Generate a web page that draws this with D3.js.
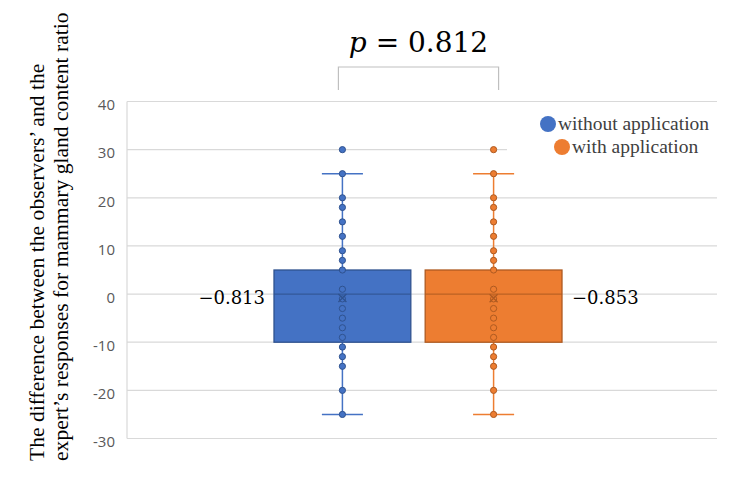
<!DOCTYPE html>
<html>
<head>
<meta charset="utf-8">
<script src="https://cdn.jsdelivr.net/npm/d3@7"></script>
<style>
  html, body { margin: 0; padding: 0; background: #fff; }
  svg { display: block; }
</style>
</head>
<body>
<svg id="chart" width="750" height="479"></svg>
<script>
// ---------- DATA ----------
const seriesNames = ["without application", "with application"];
const seriesColors = ["#4472C4", "#ED7D31"];
const seriesStrokes = ["#2F528F", "#AE5A21"];
const yTicks = [-30, -20, -10, 0, 10, 20, 30, 40];
const q1Values = [-10, -10];
const medianValues = [0, 0];
const q3Values = [5, 5];
const whiskerLow = [-25, -25];
const whiskerHigh = [25, 25];
const meanValues = [-0.813, -0.853];
const meanLabels = ["\u22120.813", "\u22120.853"];
const pointsWithout = [30, 25, 20, 18, 15, 12, 9, 7, 5, 1, -1, -3, -5, -7, -9, -11, -13, -15, -20, -25];
const pointsWith = [30, 25, 20, 18, 15, 12, 9, 7, 5, 1, -1, -3, -5, -7, -9, -11, -13, -15, -20, -25];
const pValueText = "0.812";
const yTitleLines = ["The difference between the observers\u2019 and the",
                     "expert\u2019s responses for mammary gland content ratio"];

// ---------- LAYOUT ----------
const svg = d3.select("#chart");
const plotLeft = 127, plotRight = 717, plotTop = 101.5, plotBottom = 438.5;

const y = d3.scaleLinear().domain([-30, 40]).range([plotBottom, plotTop]);
const x = d3.scaleBand().domain(seriesNames).range([274, 562]).paddingInner(0.095).paddingOuter(0);

// gridlines
svg.append("g").selectAll("line").data(yTicks).join("line")
  .attr("x1", plotLeft).attr("x2", plotRight)
  .attr("y1", d => y(d)).attr("y2", d => y(d))
  .attr("stroke", "#d9d9d9").attr("stroke-width", 1.2);
// left axis line
svg.append("line")
  .attr("x1", plotLeft).attr("x2", plotLeft)
  .attr("y1", y(40)).attr("y2", y(-30))
  .attr("stroke", "#d9d9d9").attr("stroke-width", 1.2);

// y axis labels
const yAxis = d3.axisLeft(y).tickValues(yTicks).tickSize(0).tickPadding(0).tickFormat(d => String(d));
const yAxisG = svg.append("g").attr("transform", `translate(115,0)`).call(yAxis);
yAxisG.select(".domain").remove();
yAxisG.selectAll("text")
  .attr("fill", "#595959")
  .attr("font-family", "'Open Sans', 'Liberation Sans', sans-serif")
  .attr("font-size", "15px")
  .attr("dy", "0.55em");

// legend white background (covers gridlines)
svg.append("rect").attr("x", 507).attr("y", 110).attr("width", 212).attr("height", 50).attr("fill", "#fff");

// boxes
const pointSets = [pointsWithout, pointsWith];
seriesNames.forEach((name, i) => {
  const g = svg.append("g");
  const bx = x(name), bw = x.bandwidth(), cx = bx + bw / 2;
  const capW = bw * 0.3;
  const col = seriesColors[i], dark = seriesStrokes[i];
  // whisker lines
  g.append("line").attr("x1", cx).attr("x2", cx).attr("y1", y(whiskerHigh[i])).attr("y2", y(q3Values[i]))
    .attr("stroke", col).attr("stroke-width", 1.5);
  g.append("line").attr("x1", cx).attr("x2", cx).attr("y1", y(q1Values[i])).attr("y2", y(whiskerLow[i]))
    .attr("stroke", col).attr("stroke-width", 1.5);
  [whiskerHigh[i], whiskerLow[i]].forEach(v => {
    g.append("line").attr("x1", cx - capW / 2).attr("x2", cx + capW / 2).attr("y1", y(v)).attr("y2", y(v))
      .attr("stroke", col).attr("stroke-width", 1.5);
  });
  // box
  g.append("rect").attr("x", bx).attr("y", y(q3Values[i])).attr("width", bw)
    .attr("height", y(q1Values[i]) - y(q3Values[i]))
    .attr("fill", col).attr("stroke", dark).attr("stroke-width", 1.3);
  // median
  g.append("line").attr("x1", bx).attr("x2", bx + bw).attr("y1", y(medianValues[i])).attr("y2", y(medianValues[i]))
    .attr("stroke", dark).attr("stroke-width", 1.2).attr("stroke-opacity", 0.8);
  // points
  g.selectAll("circle").data(pointSets[i]).join("circle")
    .attr("cx", cx).attr("cy", d => y(d)).attr("r", 3.1)
    .attr("fill", col).attr("stroke", dark).attr("stroke-width", 1);
  // mean marker X
  const my = y(meanValues[i]), s = 4;
  g.append("path").attr("d", `M${cx - s},${my - s}L${cx + s},${my + s}M${cx - s},${my + s}L${cx + s},${my - s}`)
    .attr("stroke", dark).attr("stroke-width", 1.3).attr("fill", "none");
  // mean label
  svg.append("text")
    .attr("x", i === 0 ? bx - 9 : bx + bw + 10)
    .attr("y", y(meanValues[i]) + 6)
    .attr("text-anchor", i === 0 ? "end" : "start")
    .attr("font-family", "'DejaVu Serif', serif")
    .attr("font-size", "18px").attr("fill", "#000")
    .text(meanLabels[i]);
});

// legend
const legendY = [124, 147];
const legendX = [548, 562];
seriesNames.forEach((name, i) => {
  svg.append("circle").attr("cx", legendX[i]).attr("cy", legendY[i]).attr("r", 8).attr("fill", seriesColors[i]);
  svg.append("text").attr("x", legendX[i] + 10).attr("y", legendY[i] + 6)
    .attr("font-family", "'Liberation Serif', 'Times New Roman', serif")
    .attr("font-size", "19.5px").attr("fill", "#404040")
    .text(name);
});

// p-value bracket
const c0 = x(seriesNames[0]) + x.bandwidth() / 2 - 4;
const c1 = x(seriesNames[1]) + x.bandwidth() / 2 + 5;
svg.append("path").attr("d", `M${c0},90V67H${c1}V90`)
  .attr("fill", "none").attr("stroke", "#bfbfbf").attr("stroke-width", 1.2);
const pt = svg.append("text").attr("x", (c0 + c1) / 2).attr("y", 52).attr("text-anchor", "middle")
  .attr("font-family", "'DejaVu Serif', serif").attr("font-size", "28px").attr("fill", "#000");
pt.append("tspan").attr("font-style", "italic").text("p");
pt.append("tspan").text(" = " + pValueText);

// y axis title
yTitleLines.forEach((line, i) => {
  svg.append("text")
    .attr("transform", `translate(${44 + i * 24},461) rotate(-90)`)
    .attr("font-family", "'Liberation Serif', 'Times New Roman', serif")
    .attr("font-size", "21.6px").attr("fill", "#000")
    .text(line);
});
</script>
</body>
</html>
